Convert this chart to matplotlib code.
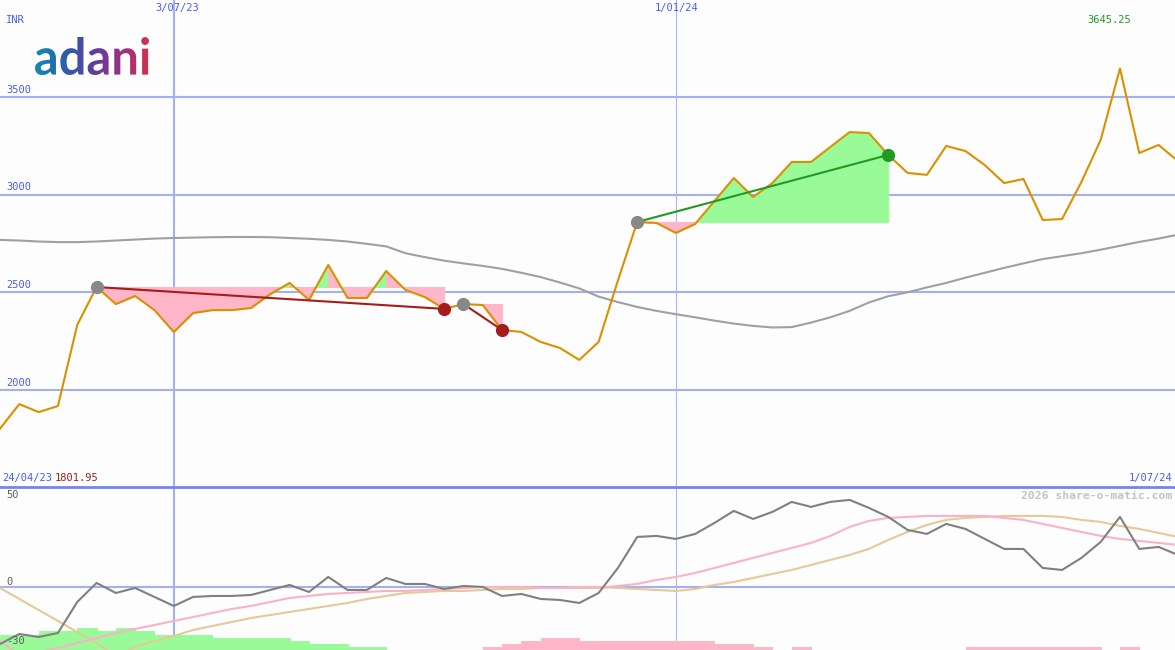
import numpy as np
import pandas as pd
import matplotlib
matplotlib.use('Agg')
import matplotlib.pyplot as plt
import matplotlib.dates as mdates
from matplotlib.textpath import TextPath
from matplotlib.patches import PathPatch
from matplotlib.font_manager import FontProperties
from matplotlib.colors import LinearSegmentedColormap

# weekly closes (INR), 1 May 2023 .. 1 Jul 2024
dates = pd.date_range('2023-05-01', periods=62, freq='7D')
price = [1801.95, 1928, 1887, 1918, 2333, 2527, 2440, 2481, 2409, 2297,
         2394, 2409, 2409, 2420, 2491, 2548, 2461, 2640, 2471, 2471,
         2609, 2512, 2476, 2415, 2440, 2435, 2307, 2297, 2246, 2215,
         2154, 2246, 2560, 2860, 2855, 2804, 2850, 2967, 3085, 2988,
         3059, 3167, 3167, 3244, 3320, 3315, 3203, 3111, 3101, 3249,
         3223, 3151, 3059, 3080, 2870, 2875, 3064, 3280, 3645.25, 3213,
         3254, 3172]
# long moving average in price panel
ma_long = [2768, 2765, 2760, 2757, 2757, 2760, 2765, 2770, 2775, 2778,
           2780, 2782, 2783, 2783, 2782, 2778, 2774, 2768, 2760, 2748,
           2735, 2700, 2680, 2662, 2648, 2635, 2620, 2600, 2578, 2550,
           2520, 2478, 2450, 2425, 2405, 2388, 2372, 2355, 2340, 2328,
           2320, 2322, 2345, 2372, 2405, 2448, 2480, 2500, 2525, 2548,
           2575, 2600, 2625, 2648, 2670, 2685, 2700, 2718, 2738, 2758,
           2775, 2795]

# trends: (start index, end index, up?)
trends = [(5, 23, False), (24, 26, False), (33, 46, True)]

# lower panel, values read in pixel rows then converted
osc_px = [644, 634, 637, 633, 602, 583, 593, 588, 597, 606,
          597, 596, 596, 595, 590, 585, 592, 577, 590, 590,
          578, 584, 584, 589, 586, 587, 596, 594, 599, 600,
          603, 593, 568, 537, 536, 539, 534, 523, 511, 519,
          512, 502, 507, 502, 500, 508, 517, 530, 534, 524,
          529, 539, 549, 549, 568, 570, 558, 542, 517, 549,
          547, 555]
pink_px = [641, 655, 652, 648, 643, 638, 633, 629, 625, 621,
           617, 613, 609, 606, 602, 598, 596, 594, 593, 592,
           591, 591, 590, 589, 588, 587, 587, 587, 588, 588,
           588, 588, 586, 584, 580, 577, 573, 568, 563, 558,
           553, 548, 543, 536, 527, 521, 518, 517, 516, 516,
           516, 516, 518, 520, 524, 528, 532, 536, 539, 541,
           543, 545]
tan_px = [588, 599, 610, 621, 632, 643, 656, 647, 641, 636,
          630, 626, 622, 618, 615, 612, 609, 606, 603, 599,
          596, 593, 592, 591, 591, 590, 589, 589, 588, 588,
          587, 587, 588, 589, 590, 591, 589, 585, 582, 578,
          574, 570, 565, 560, 555, 549, 540, 532, 525, 520,
          518, 517, 516, 516, 516, 517, 520, 522, 526, 529,
          533, 537]
ZERO_PX, PX_PER_UNIT = 587, 1.8
osc = [(ZERO_PX - v) / PX_PER_UNIT for v in osc_px]
osc_ma1 = [(ZERO_PX - v) / PX_PER_UNIT for v in pink_px]
osc_ma2 = [(ZERO_PX - v) / PX_PER_UNIT for v in tan_px]

hist_up = [8.3, 8.3, 10.6, 10.6, 12.2, 10.6, 12.2, 10.6, 8.3, 8.3,
           8.3, 6.7, 6.7, 6.7, 6.7, 5.0, 3.3, 3.3, 1.7, 1.7] + [0] * 42
hist_dn = [0] * 25 + [1.7, 3.3, 5.0, 6.7, 6.7, 5, 5, 5, 5, 5, 5, 5, 3.3, 3.3, 1.7,
                      0, 1.7, 0, 0, 0, 0, 0, 0, 0, 0, 1.7, 1.7, 1.7, 1.7, 1.7,
                      1.7, 1.7, 0, 1.7, 0, 0, 0]

W, H = 1175, 650
SPLIT = 487  # pixel row between the two panels
BG = '#fcfdfc'
GRID = '#a3b1f0'
BLUE_TXT = '#4a5cf0'
PINK = '#ffb6c8'
GREEN = '#98fb98'
MONO = 'DejaVu Sans Mono'

fig = plt.figure(figsize=(W / 100, H / 100), dpi=100, facecolor=BG)
ax = fig.add_axes([0, 1 - SPLIT / H, 1, SPLIT / H], facecolor=BG)
ax2 = fig.add_axes([0, 0, 1, (H - SPLIT) / H], facecolor=BG)

xd = mdates.date2num(dates)
day_px = 19.31 / 7
xlim = (xd[0], xd[0] + W / day_px)
for a in (ax, ax2):
    a.set_xlim(*xlim)
    a.set_xticks([])
    a.set_yticks([])
    for s in a.spines.values():
        s.set_visible(False)

ax.set_ylim(1503.6, 3996)
ax2.set_ylim(-35, 55.5)

# grid
for v in (2000, 2500, 3000, 3500):
    ax.axhline(v, color=GRID, lw=1.5, zorder=1)
    ax.text(0.005, v + 12, str(v), transform=ax.get_yaxis_transform(),
            color=BLUE_TXT, fontsize=7.5, family=MONO, va='bottom')
ax2.axhline(0, color=GRID, lw=1.5, zorder=1)
v1 = mdates.date2num(pd.Timestamp('2023-07-03'))
v2 = mdates.date2num(pd.Timestamp('2024-01-01'))
for a in (ax, ax2):
    a.axvline(v1, color=GRID, lw=1.5, zorder=1)
    a.axvline(v2, color='#a8b6f0', lw=0.8, zorder=1)
ax2.axhline(55.5, color='#7585f0', lw=2, zorder=5, clip_on=False)

# trend fills
def fill_seg(xa, xb, ya, yb, lvl, col):
    ax.fill_between([xa, xb], [ya, yb], lvl, facecolor=col, edgecolor=col,
                    lw=0.7, zorder=2)

for a, b, up in trends:
    lvl = price[a]
    for i in range(a, b):
        x0, x1, y0, y1 = xd[i], xd[i + 1], price[i], price[i + 1]
        above = GREEN if (up or y1 > y0) else PINK
        if (y0 - lvl) * (y1 - lvl) < 0:
            t = (lvl - y0) / (y1 - y0)
            xm = x0 + t * (x1 - x0)
            fill_seg(x0, xm, y0, lvl, lvl, above if y0 > lvl else PINK)
            fill_seg(xm, x1, lvl, y1, lvl, above if y1 > lvl else PINK)
        else:
            fill_seg(x0, x1, y0, y1, lvl, above if max(y0, y1) > lvl else PINK)

ax.plot(xd, ma_long, color='#a0a0a0', lw=1.5, zorder=3)
ax.plot(xd, price, color='#dc9000', lw=1.5, zorder=4)

for a, b, up in trends:
    col = '#229a22' if up else '#a51c1c'
    ax.plot([xd[a], xd[b]], [price[a], price[b]], color=col, lw=1.5, zorder=5)
    ax.plot(xd[a], price[a], 'o', color='#888888', ms=9.5, zorder=6, mec='none')
    ax.plot(xd[b], price[b], 'o', color=col, ms=9.5, zorder=6, mec='none')

# lower panel
ax2.bar(xd, hist_up, width=7, bottom=-35, align='edge', color=GREEN,
        edgecolor=GREEN, lw=0.7, zorder=2)
ax2.bar(xd, hist_dn, width=7, bottom=-35, align='edge', color=PINK,
        edgecolor=PINK, lw=0.7, zorder=2)
ax2.plot(xd, osc_ma2, color='#e6c999', lw=1.5, zorder=3)
ax2.plot(xd, osc_ma1, color='#f9b2c8', lw=1.5, zorder=3)
ax2.plot(xd, osc, color='#808080', lw=1.5, zorder=4)

# texts
def ftext(x, y, s, **kw):
    kw.setdefault('family', MONO)
    kw.setdefault('fontsize', 7.5)
    kw.setdefault('va', 'center')
    fig.text(x / W, 1 - y / H, s, **kw)

ftext(6, 20, 'INR', color=BLUE_TXT)
ftext(177, 8, '3/07/23', color=BLUE_TXT, ha='center')
ftext(677, 8, '1/01/24', color=BLUE_TXT, ha='center')
ftext(1109, 20, '3645.25', color='#229a22', ha='center')
ftext(2, 478, '24/04/23', color=BLUE_TXT)
ftext(55, 478, '1801.95', color='#a51c1c')
ftext(1172, 478, '1/07/24', color=BLUE_TXT, ha='right')
ftext(1172, 496, '2026 share-o-matic.com', color='#c4c4c4', ha='right',
      fontsize=8.2, weight='bold')
ftext(6, 495, '50', color='#606060')
ftext(6, 582, '0', color='#606060')
ftext(6, 641, '-30', color='#606060')

# logo
tp = TextPath((0, 0), 'adani', size=100,
              prop=FontProperties(family='Lato', weight='bold'))
bb = tp.get_extents()
lax = fig.add_axes([35 / W, 1 - 75 / H, 114 / W, 38 / H])
lax.set_xlim(bb.x0, bb.x1)
lax.set_ylim(bb.y0, bb.y1)
lax.axis('off')
patch = PathPatch(tp, fc='none', ec='none')
lax.add_patch(patch)
cmap = LinearSegmentedColormap.from_list(
    'adani', ['#1288b8', '#2a62ab', '#5a3f9f', '#9a2f85', '#d0334f'])
im = lax.imshow(np.linspace(0, 1, 256).reshape(1, -1), cmap=cmap, aspect='auto',
                extent=[bb.x0, bb.x1, bb.y0, bb.y1])
im.set_clip_path(patch)

fig.savefig('out.png', dpi=100, facecolor=BG)
